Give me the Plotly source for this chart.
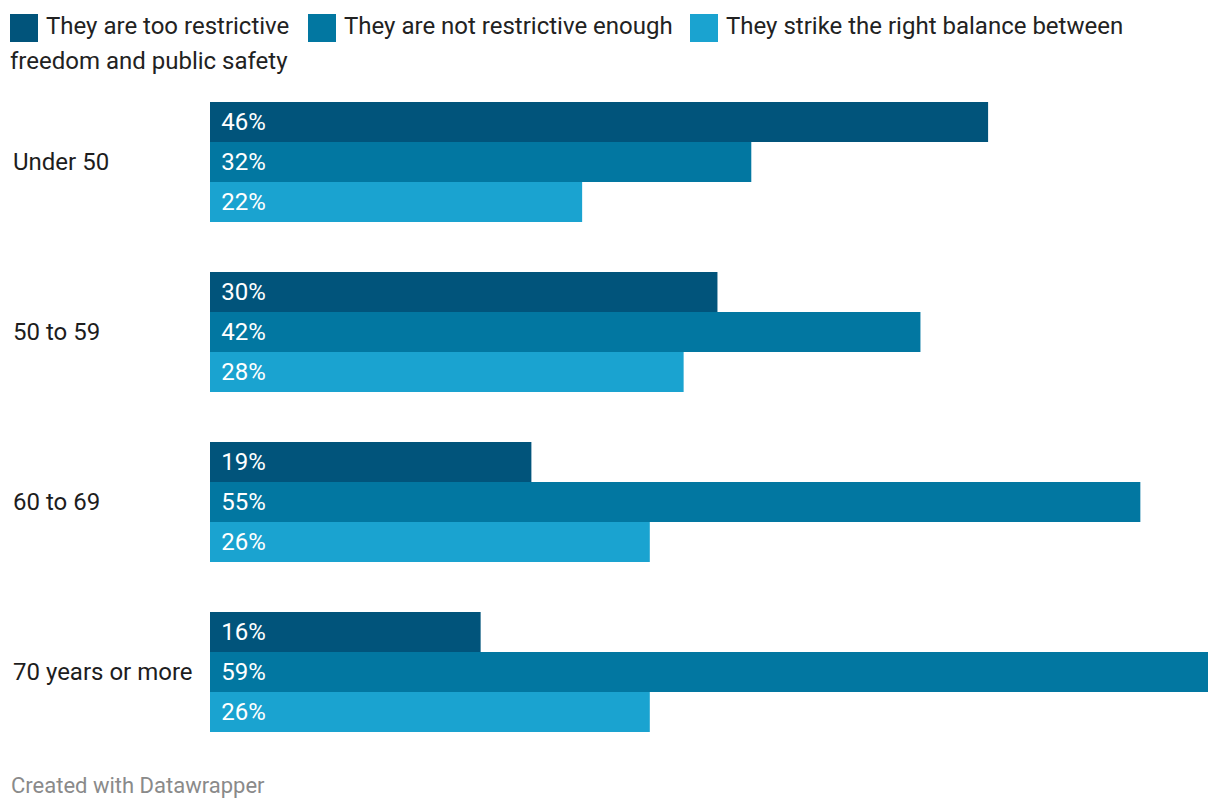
import plotly.graph_objects as go

# ---- data ----
categories = ["Under 50", "50 to 59", "60 to 69", "70 years or more"]
series_names = [
    "They are too restrictive",
    "They are not restrictive enough",
    "They strike the right balance between freedom and public safety",
]
too_restrictive = [46, 30, 19, 16]
not_restrictive_enough = [32, 42, 55, 59]
right_balance = [22, 28, 26, 26]
series_values = [too_restrictive, not_restrictive_enough, right_balance]
colors = ["#01547b", "#0277a1", "#1aa3d0"]

FONT = "Roboto"
OFF = 8  # page body margin
W, H = 1220 - OFF, 810 - OFF
# plot area in screen pixels: x 210..1208, y 77..757
L, T = 210 - OFF, 77 - OFF
R = W - (1208 - OFF)
B = H - (757 - OFF)
PW, PH = W - L - R, H - T - B


def px2x(px):
    return (px - OFF - L) / PW


def px2y(py):
    return 1 - (py - OFF - T) / PH


fig = go.Figure()
for name, vals, col in zip(series_names, series_values, colors):
    fig.add_trace(go.Bar(
        y=categories, x=vals, name=name, orientation="h",
        marker=dict(color=col, line=dict(width=0)),
        text=["\u2004" + f"{v}%" for v in vals],
        textposition="inside", insidetextanchor="start",
        textfont=dict(family=FONT, size=24, color="white"),
        constraintext="none",
        hoverinfo="skip",
    ))

fig.update_layout(
    width=W, height=H,
    margin=dict(l=L, r=R, t=T, b=B, pad=0),
    paper_bgcolor="white", plot_bgcolor="white",
    barmode="group", bargap=50 / 170, bargroupgap=0,
    showlegend=False,
    font=dict(family=FONT, size=24, color="#222"),
    xaxis=dict(range=[0, max(not_restrictive_enough)], visible=False, fixedrange=True),
    yaxis=dict(autorange="reversed", showticklabels=False, showgrid=False,
               zeroline=False, showline=False, ticks="", fixedrange=True),
)

annotations = []
# category labels
for c in categories:
    annotations.append(dict(
        x=px2x(11), xref="paper", y=c, yref="y", text=c, showarrow=False,
        xanchor="left", yanchor="middle",
        font=dict(family=FONT, size=24, color="#1d1d1d"),
    ))

# legend (drawn manually, Datawrapper-style inline flow)
legend_sq_x = [10, 308, 690]
legend_txt = [series_names[0], series_names[1], "They strike the right balance between"]
shapes = []
for sx, col, txt in zip(legend_sq_x, colors, legend_txt):
    shapes.append(dict(type="rect", xref="paper", yref="paper",
                       x0=px2x(sx), x1=px2x(sx + 28), y0=px2y(42), y1=px2y(14),
                       fillcolor=col, line=dict(width=0)))
    annotations.append(dict(
        x=px2x(sx + 34), xref="paper", y=px2y(26), yref="paper", text=txt,
        showarrow=False, xanchor="left", yanchor="middle",
        font=dict(family=FONT, size=24, color="#222"),
    ))
annotations.append(dict(
    x=px2x(8), xref="paper", y=px2y(61), yref="paper",
    text="freedom and public safety", showarrow=False,
    xanchor="left", yanchor="middle",
    font=dict(family=FONT, size=24, color="#222"),
))

# footer
annotations.append(dict(
    x=px2x(9), xref="paper", y=px2y(785), yref="paper",
    text="Created with Datawrapper", showarrow=False,
    xanchor="left", yanchor="middle",
    font=dict(family=FONT, size=22, color="#8a8a8a"),
))

fig.update_layout(annotations=annotations, shapes=shapes)
fig.write_html("out.html")
